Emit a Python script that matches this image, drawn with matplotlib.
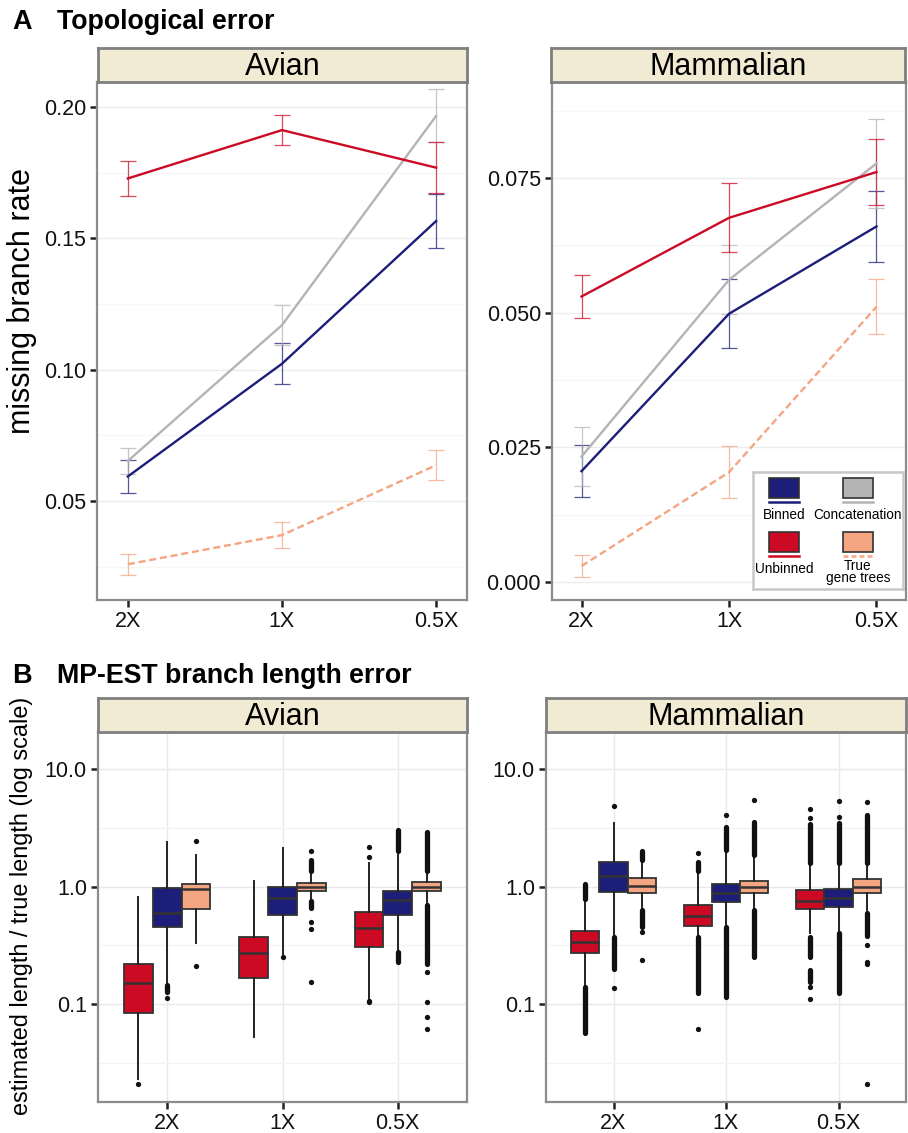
import matplotlib
matplotlib.use('Agg')
import matplotlib.pyplot as plt
from matplotlib.patches import Rectangle
from matplotlib.ticker import FixedLocator, NullFormatter
import numpy as np

plt.rcParams['font.family'] = ['Liberation Sans', 'DejaVu Sans']

W, H = 908, 1133

coverage = ['2X', '1X', '0.5X']

# panel A: missing branch rate, mean and half-width of error bar
av_binned = [0.0594, 0.1023, 0.1566]
av_binned_err = [0.0061, 0.0077, 0.0102]
av_concat = [0.0653, 0.1170, 0.1966]
av_concat_err = [0.0050, 0.0075, 0.0101]
av_unbinned = [0.1728, 0.1912, 0.1769]
av_unbinned_err = [0.0066, 0.0058, 0.0097]
av_true = [0.0260, 0.0371, 0.0637]
av_true_err = [0.0040, 0.0051, 0.0057]

mm_binned = [0.0206, 0.0498, 0.0660]
mm_binned_err = [0.0048, 0.0064, 0.0066]
mm_concat = [0.0233, 0.0561, 0.0777]
mm_concat_err = [0.0055, 0.0064, 0.0083]
mm_unbinned = [0.0530, 0.0676, 0.0761]
mm_unbinned_err = [0.0040, 0.0064, 0.0062]
mm_true = [0.0030, 0.0204, 0.0511]
mm_true_err = [0.0020, 0.0048, 0.0051]

# panel B: box stats (whisker low, q1, median, q3, whisker high) for 2X, 1X, 0.5X
av_unb_box = [(0.023, 0.085, 0.151, 0.220, 0.82), (0.053, 0.166, 0.274, 0.371, 1.12), (0.11, 0.305, 0.448, 0.605, 1.58)]
av_bin_box = [(0.156, 0.456, 0.60, 0.979, 2.38), (0.27, 0.57, 0.796, 1.0, 2.14), (0.289, 0.577, 0.77, 0.92, 1.85)]
av_true_box = [(0.333, 0.645, 0.95, 1.05, 1.85), (0.77, 0.92, 1.0, 1.08, 1.34), (0.72, 0.91, 1.0, 1.087, 1.34)]
mm_unb_box = [(0.146, 0.271, 0.336, 0.42, 0.77), (0.37, 0.466, 0.566, 0.698, 1.34), (0.40, 0.64, 0.76, 0.93, 1.56)]
mm_bin_box = [(0.388, 0.90, 1.24, 1.61, 3.45), (0.47, 0.74, 0.885, 1.06, 2.05), (0.42, 0.67, 0.796, 0.96, 1.56)]
mm_true_box = [(0.675, 0.89, 1.02, 1.175, 1.62), (0.66, 0.885, 1.0, 1.12, 1.8), (0.63, 0.89, 1.0, 1.15, 1.56)]

# single outliers
av_unb_out = [[0.021], [], [1.79, 2.18, 0.107, 0.104]]
av_bin_out = [[0.114], [0.254], []]
av_true_out = [[2.44, 0.213], [2.02, 0.50, 0.44, 0.155], [0.19, 0.105, 0.078, 0.062]]
mm_unb_out = [[], [1.92, 0.062], [3.8, 4.6, 0.141, 0.111]]
mm_bin_out = [[4.84, 0.138], [4.1], [5.37, 3.88]]
mm_true_out = [[0.41, 0.238], [5.5], [5.2, 0.32, 0.23, 0.22, 0.021]]

# runs of overlapping outliers (low, high)
av_unb_runs = [[], [], []]
av_bin_runs = [[(0.128, 0.145)], [], [(2.0, 3.0), (0.228, 0.28)]]
av_true_runs = [[], [(1.36, 1.68), (0.66, 0.75)], [(1.36, 2.9), (0.22, 0.70)]]
mm_unb_runs = [[(0.79, 1.05), (0.057, 0.14)], [(1.36, 1.62), (0.125, 0.37)], [(1.6, 3.4), (0.254, 0.375), (0.156, 0.195)]]
mm_bin_runs = [[(0.2, 0.37)], [(2.05, 3.2), (0.116, 0.45)], [(1.6, 3.45), (0.124, 0.40)]]
mm_true_runs = [[(1.7, 2.0), (0.456, 0.63)], [(1.85, 3.56), (0.254, 0.63)], [(1.6, 4.1), (0.38, 0.6)]]

C_BIN = '#1d1d7a'
C_CAT = '#b4b4b4'
C_UNB = '#cc0a24'
C_TRUE = '#f4a582'
STRIP = '#f2ebd3'

fig = plt.figure(figsize=(W / 100, H / 100), dpi=100)


def px_axes(x0, y0, x1, y1):
    return fig.add_axes([x0 / W, 1 - y1 / H, (x1 - x0) / W, (y1 - y0) / H])


def strip(x0, y0, x1, y1, label):
    s = px_axes(x0, y0, x1, y1)
    s.set_facecolor(STRIP)
    s.set_xticks([])
    s.set_yticks([])
    for sp in s.spines.values():
        sp.set_color('#7f7f7f')
        sp.set_linewidth(2)
    s.text(0.5, 0.45, label, ha='center', va='center', fontsize=22, transform=s.transAxes)


def style(ax):
    for sp in ax.spines.values():
        sp.set_color('#8c8c8c')
        sp.set_linewidth(1.6)
    ax.tick_params(which='major', direction='out', length=5, width=1.8, color='#222222',
                   labelsize=15.5, pad=3, labelcolor='#111111')
    ax.tick_params(which='minor', length=0)
    ax.set_axisbelow(True)


def line_panel(ax, series, ylim, yticks, ylabels, minor):
    x = np.arange(len(coverage))
    for vals, errs, color, ls in series:
        ax.errorbar(x, vals, yerr=errs, fmt='none', ecolor=color, elinewidth=0.9,
                    capsize=5.5, capthick=0.9, alpha=0.75, zorder=2)
        ax.plot(x, vals, color=color, lw=1.7, ls=ls, zorder=3)
    ax.set_xlim(-0.2, 2.2)
    ax.set_ylim(*ylim)
    ax.set_xticks(x)
    ax.set_xticklabels(coverage)
    ax.set_yticks(yticks)
    ax.set_yticklabels(ylabels)
    ax.yaxis.set_minor_locator(FixedLocator(minor))
    ax.grid(which='major', axis='y', color='#ececec', lw=1)
    ax.grid(which='minor', axis='y', color='#f6f6f6', lw=1)
    style(ax)


def box_panel(ax, groups):
    offsets = [-0.25, 0, 0.25]
    for k, (boxes, outs, runs, color) in enumerate(groups):
        for i in range(len(coverage)):
            lo, q1, med, q3, hi = boxes[i]
            pos = i + offsets[k]
            st = [{'whislo': lo, 'q1': q1, 'med': med, 'q3': q3, 'whishi': hi, 'fliers': outs[i]}]
            ax.bxp(st, positions=[pos], widths=0.25, patch_artist=True, showcaps=False,
                   boxprops=dict(facecolor=color, edgecolor='#333333', lw=1.3),
                   medianprops=dict(color='#333333', lw=1.8),
                   whiskerprops=dict(color='#222222', lw=1.4),
                   flierprops=dict(marker='o', markersize=3.8, markerfacecolor='#111111',
                                   markeredgecolor='none'),
                   manage_ticks=False)
            for rlo, rhi in runs[i]:
                ax.vlines(pos, rlo, rhi, color='#111111', lw=3.8, capstyle='round', zorder=3)
    ax.set_yscale('log')
    ax.set_xlim(-0.6, 2.6)
    ax.set_ylim(0.0148, 20.6)
    ax.set_xticks(range(len(coverage)))
    ax.set_xticklabels(coverage)
    ax.set_yticks([0.1, 1, 10])
    ax.set_yticklabels(['0.1', '1.0', '10.0'])
    ax.yaxis.set_minor_locator(FixedLocator([10 ** -1.5, 10 ** -0.5, 10 ** 0.5]))
    ax.yaxis.set_minor_formatter(NullFormatter())
    ax.grid(which='major', color='#e9e9e9', lw=1)
    ax.grid(which='minor', axis='y', color='#f4f4f4', lw=1)
    style(ax)


# ---- panel A ----
ax1 = px_axes(97, 82, 467, 600)
line_panel(ax1, [(av_true, av_true_err, C_TRUE, (0, (3, 1.6))),
                 (av_binned, av_binned_err, C_BIN, '-'),
                 (av_concat, av_concat_err, C_CAT, '-'),
                 (av_unbinned, av_unbinned_err, C_UNB, '-')],
           (0.0124, 0.2095), [0.05, 0.10, 0.15, 0.20], ['0.05', '0.10', '0.15', '0.20'],
           [0.025, 0.075, 0.125, 0.175])
strip(98, 48, 467, 82, 'Avian')

ax2 = px_axes(552, 82, 906, 600)
line_panel(ax2, [(mm_true, mm_true_err, C_TRUE, (0, (3, 1.6))),
                 (mm_binned, mm_binned_err, C_BIN, '-'),
                 (mm_concat, mm_concat_err, C_CAT, '-'),
                 (mm_unbinned, mm_unbinned_err, C_UNB, '-')],
           (-0.0033, 0.0928), [0.0, 0.025, 0.05, 0.075], ['0.000', '0.025', '0.050', '0.075'],
           [0.0125, 0.0375, 0.0625, 0.0875])
strip(551, 48, 905, 82, 'Mammalian')

# legend
lg = px_axes(753, 472, 903, 589)
lg.set_xlim(753, 903)
lg.set_ylim(589, 472)
lg.set_xticks([])
lg.set_yticks([])
for sp in lg.spines.values():
    sp.set_color('#c8c8c8')
    sp.set_linewidth(1.8)
legend_items = [('Binned', C_BIN, '-', 769, 478), ('Concatenation', C_CAT, '-', 843, 478),
                ('Unbinned', C_UNB, '-', 769, 532), ('True\ngene trees', C_TRUE, (0, (2, 1.2)), 843, 532)]
for name, col, ls, lx, ly in legend_items:
    lg.add_patch(Rectangle((lx, ly), 30, 20, facecolor=col, edgecolor='#333333', lw=1.2))
    lg.plot([lx, lx + 30], [ly + 24, ly + 24], color=col, lw=1.8, ls=ls)
    if '\n' in name:
        lg.text(lx + 15, ly + 40, name, ha='center', va='center', fontsize=9.8, linespacing=0.85)
    else:
        lg.text(lx + 15, ly + 37, name, ha='center', va='center', fontsize=9.8)

fig.text(22 / W, 1 - 301 / H, 'missing branch rate', rotation=90, ha='center', va='center', fontsize=22)
fig.text(12 / W, 1 - 22 / H, 'A', fontsize=19.5, weight='bold', va='center')
fig.text(57 / W, 1 - 22 / H, 'Topological error', fontsize=19.3, weight='bold', va='center')

# ---- panel B ----
ax3 = px_axes(98, 732, 467, 1102)
box_panel(ax3, [(av_unb_box, av_unb_out, av_unb_runs, C_UNB),
                (av_bin_box, av_bin_out, av_bin_runs, C_BIN),
                (av_true_box, av_true_out, av_true_runs, C_TRUE)])
strip(98, 698, 467, 732, 'Avian')

ax4 = px_axes(546, 732, 906, 1102)
box_panel(ax4, [(mm_unb_box, mm_unb_out, mm_unb_runs, C_UNB),
                (mm_bin_box, mm_bin_out, mm_bin_runs, C_BIN),
                (mm_true_box, mm_true_out, mm_true_runs, C_TRUE)])
strip(546, 698, 906, 732, 'Mammalian')

fig.text(22 / W, 1 - 906 / H, 'estimated length / true length (log scale)', rotation=90,
         ha='center', va='center', fontsize=16.9)
fig.text(12 / W, 1 - 676 / H, 'B', fontsize=19.5, weight='bold', va='center')
fig.text(57 / W, 1 - 676 / H, 'MP-EST branch length error', fontsize=19.3, weight='bold', va='center')

fig.savefig('out.png', dpi=100)
